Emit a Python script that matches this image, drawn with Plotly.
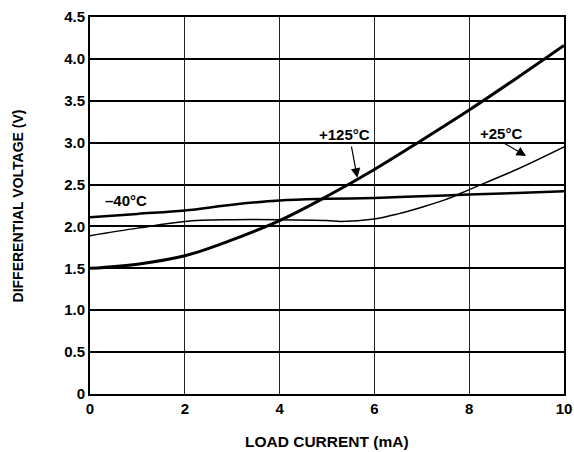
import plotly.graph_objects as go

# data
x_m40 = [0, 1, 2, 3, 4, 5, 6, 7, 8, 9, 10]
y_m40 = [2.11, 2.15, 2.19, 2.26, 2.31, 2.33, 2.34, 2.36, 2.38, 2.40, 2.42]

x_25 = [0, 1, 2, 3, 4, 5, 5.3, 6, 6.5, 7, 7.5, 8, 9, 10]
y_25 = [1.89, 1.98, 2.06, 2.08, 2.08, 2.07, 2.06, 2.09, 2.15, 2.23, 2.32, 2.44, 2.68, 2.95]

x_125 = [0, 1, 2, 3, 4, 5, 6, 7, 8, 9, 10]
y_125 = [1.50, 1.55, 1.65, 1.84, 2.07, 2.36, 2.68, 3.03, 3.39, 3.77, 4.16]

x_ticks = [0, 2, 4, 6, 8, 10]
x_ticktext = ["0", "2", "4", "6", "8", "10"]
y_ticks = [0, 0.5, 1.0, 1.5, 2.0, 2.5, 3.0, 3.5, 4.0, 4.5]
y_ticktext = ["0", "0.5", "1.0", "1.5", "2.0", "2.5", "3.0", "3.5", "4.0", "4.5"]

x_title = "LOAD CURRENT (mA)"
y_title = "DIFFERENTIAL VOLTAGE (V)"

FONT = "Arial, 'Liberation Sans', sans-serif"

fig = go.Figure()
fig.add_trace(go.Scatter(x=x_m40, y=y_m40, mode="lines",
                         line=dict(color="black", width=2.5, shape="spline"),
                         showlegend=False))
fig.add_trace(go.Scatter(x=x_25, y=y_25, mode="lines",
                         line=dict(color="black", width=1.5, shape="spline"),
                         showlegend=False))
fig.add_trace(go.Scatter(x=x_125, y=y_125, mode="lines",
                         line=dict(color="black", width=3, shape="spline"),
                         showlegend=False))

annot_font = dict(family=FONT, size=15, color="black", weight="bold")
fig.add_annotation(x=0.76, y=2.31, text="–40°C", showarrow=False, font=annot_font)
fig.add_annotation(x=5.36, y=3.10, text="+125°C", showarrow=False, font=annot_font)
fig.add_annotation(x=8.67, y=3.11, text="+25°C", showarrow=False, font=annot_font)
# arrows
fig.add_annotation(x=5.64, y=2.58, ax=5.51, ay=2.97, axref="x", ayref="y",
                   xref="x", yref="y", text="", showarrow=True,
                   arrowhead=2, arrowsize=1.6, arrowwidth=1.2, arrowcolor="black")
fig.add_annotation(x=9.2, y=2.84, ax=8.69, ay=3.01, axref="x", ayref="y",
                   xref="x", yref="y", text="", showarrow=True,
                   arrowhead=2, arrowsize=1.6, arrowwidth=1.2, arrowcolor="black")

# axis titles
fig.add_annotation(x=0.5, y=-0.1265, xref="paper", yref="paper", text=x_title,
                   showarrow=False, xanchor="center", yanchor="middle",
                   font=dict(family=FONT, size=15.5, color="black", weight="bold"))
fig.add_annotation(x=-0.152, y=0.5, xref="paper", yref="paper", text=y_title,
                   showarrow=False, xanchor="center", yanchor="middle", textangle=-90,
                   font=dict(family=FONT, size=14, color="black", weight="bold"))

tick_font = dict(family=FONT, size=15, color="black", weight="bold")

fig.update_xaxes(range=[0, 10], tickvals=x_ticks, ticktext=x_ticktext,
                 showgrid=True, gridcolor="#222222", gridwidth=1.3,
                 showline=True, linecolor="black", linewidth=2, mirror=True,
                 zeroline=False, ticks="", tickfont=tick_font, automargin=False)
fig.update_yaxes(range=[0, 4.5], tickvals=y_ticks, ticktext=y_ticktext,
                 showgrid=True, gridcolor="black", gridwidth=2,
                 showline=True, linecolor="black", linewidth=2, mirror=True,
                 zeroline=False, ticks="", tickfont=tick_font, automargin=False)

fig.update_layout(width=574, height=452,
                  margin=dict(l=90, r=10, t=17, b=58),
                  plot_bgcolor="white", paper_bgcolor="white",
                  font=dict(family=FONT))

fig.write_html("out.html", config={"displayModeBar": False},
               post_script="document.body.style.margin='0';document.body.style.overflow='hidden';")
